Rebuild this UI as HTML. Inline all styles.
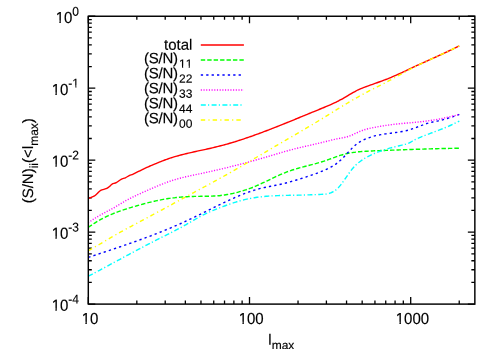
<!DOCTYPE html>
<html lang="en"><head><meta charset="utf-8"><title>S/N plot</title>
<style>
html,body{margin:0;padding:0;background:#fff;}
body{width:498px;height:349px;overflow:hidden;}
svg{display:block;will-change:transform;}
text{font-family:"Liberation Sans",sans-serif;fill:#000;stroke:#000;stroke-width:0.15px;text-rendering:geometricPrecision;font-kerning:none;}
</style></head><body>
<svg width="498" height="349" viewBox="0 0 498 349">
<rect width="498" height="349" fill="#fff"/>
<g fill="none" stroke="#000" stroke-width="1.3">
<path d="M88.30,16.25h7.0 M474.85,16.25h-7.0 M88.30,66.55h3.5 M474.85,66.55h-3.5 M88.30,53.88h3.5 M474.85,53.88h-3.5 M88.30,44.89h3.5 M474.85,44.89h-3.5 M88.30,37.91h3.5 M474.85,37.91h-3.5 M88.30,32.21h3.5 M474.85,32.21h-3.5 M88.30,27.40h3.5 M474.85,27.40h-3.5 M88.30,23.22h3.5 M474.85,23.22h-3.5 M88.30,19.54h3.5 M474.85,19.54h-3.5 M88.30,88.21h7.0 M474.85,88.21h-7.0 M88.30,138.51h3.5 M474.85,138.51h-3.5 M88.30,125.84h3.5 M474.85,125.84h-3.5 M88.30,116.85h3.5 M474.85,116.85h-3.5 M88.30,109.88h3.5 M474.85,109.88h-3.5 M88.30,104.18h3.5 M474.85,104.18h-3.5 M88.30,99.36h3.5 M474.85,99.36h-3.5 M88.30,95.19h3.5 M474.85,95.19h-3.5 M88.30,91.51h3.5 M474.85,91.51h-3.5 M88.30,160.18h7.0 M474.85,160.18h-7.0 M88.30,210.47h3.5 M474.85,210.47h-3.5 M88.30,197.80h3.5 M474.85,197.80h-3.5 M88.30,188.81h3.5 M474.85,188.81h-3.5 M88.30,181.84h3.5 M474.85,181.84h-3.5 M88.30,176.14h3.5 M474.85,176.14h-3.5 M88.30,171.32h3.5 M474.85,171.32h-3.5 M88.30,167.15h3.5 M474.85,167.15h-3.5 M88.30,163.47h3.5 M474.85,163.47h-3.5 M88.30,232.14h7.0 M474.85,232.14h-7.0 M88.30,282.44h3.5 M474.85,282.44h-3.5 M88.30,269.77h3.5 M474.85,269.77h-3.5 M88.30,260.77h3.5 M474.85,260.77h-3.5 M88.30,253.80h3.5 M474.85,253.80h-3.5 M88.30,248.10h3.5 M474.85,248.10h-3.5 M88.30,243.28h3.5 M474.85,243.28h-3.5 M88.30,239.11h3.5 M474.85,239.11h-3.5 M88.30,235.43h3.5 M474.85,235.43h-3.5 M88.30,304.10h7.0 M474.85,304.10h-7.0 M88.30,304.10v-7.0 M88.30,16.25v7.0 M136.83,304.10v-3.5 M136.83,16.25v3.5 M165.21,304.10v-3.5 M165.21,16.25v3.5 M185.35,304.10v-3.5 M185.35,16.25v3.5 M200.97,304.10v-3.5 M200.97,16.25v3.5 M213.74,304.10v-3.5 M213.74,16.25v3.5 M224.53,304.10v-3.5 M224.53,16.25v3.5 M233.88,304.10v-3.5 M233.88,16.25v3.5 M242.12,304.10v-3.5 M242.12,16.25v3.5 M249.50,304.10v-7.0 M249.50,16.25v7.0 M298.03,304.10v-3.5 M298.03,16.25v3.5 M326.41,304.10v-3.5 M326.41,16.25v3.5 M346.55,304.10v-3.5 M346.55,16.25v3.5 M362.17,304.10v-3.5 M362.17,16.25v3.5 M374.94,304.10v-3.5 M374.94,16.25v3.5 M385.73,304.10v-3.5 M385.73,16.25v3.5 M395.08,304.10v-3.5 M395.08,16.25v3.5 M403.32,304.10v-3.5 M403.32,16.25v3.5 M410.70,304.10v-7.0 M410.70,16.25v7.0 M459.23,304.10v-3.5 M459.23,16.25v3.5"/>
</g>
<g fill="none" stroke-width="1.40" stroke-linejoin="round">
<path d="M88.30,198.60 C89.26,198.19 92.58,196.95 94.04,196.14 C95.50,195.33 95.95,194.69 97.05,193.73 C98.15,192.77 99.16,191.20 100.66,190.36 C102.16,189.52 104.67,189.27 106.08,188.67 C107.49,188.07 108.10,187.51 109.10,186.75 C110.10,185.99 110.90,184.78 112.10,184.10 C113.30,183.42 114.80,183.45 116.30,182.65 C117.80,181.85 119.58,180.11 121.10,179.30 C122.62,178.49 123.98,178.45 125.40,177.80 C126.82,177.15 128.30,176.02 129.60,175.40 C130.90,174.78 131.33,174.96 133.20,174.10 C135.07,173.24 139.12,171.10 140.80,170.26 C142.48,169.43 142.47,169.48 143.30,169.10 C144.13,168.71 144.97,168.32 145.80,167.94 C146.63,167.56 147.47,167.18 148.30,166.81 C149.13,166.44 149.97,166.07 150.80,165.70 C151.63,165.33 152.47,164.97 153.30,164.61 C154.13,164.26 154.97,163.90 155.80,163.55 C156.63,163.21 157.47,162.86 158.30,162.53 C159.13,162.19 159.97,161.86 160.80,161.53 C161.63,161.21 162.47,160.89 163.30,160.58 C164.13,160.26 164.97,159.96 165.80,159.66 C166.63,159.36 167.47,159.07 168.30,158.78 C169.13,158.50 169.97,158.22 170.80,157.95 C171.63,157.69 172.47,157.42 173.30,157.17 C174.13,156.91 174.97,156.67 175.80,156.42 C176.63,156.18 177.47,155.95 178.30,155.72 C179.13,155.49 179.97,155.26 180.80,155.04 C181.63,154.82 182.47,154.61 183.30,154.40 C184.13,154.19 184.97,153.98 185.80,153.78 C186.63,153.58 187.47,153.38 188.30,153.18 C189.13,152.99 189.97,152.80 190.80,152.60 C191.63,152.41 192.47,152.23 193.30,152.04 C194.13,151.86 194.97,151.67 195.80,151.49 C196.63,151.31 197.47,151.13 198.30,150.94 C199.13,150.76 199.97,150.58 200.80,150.40 C201.63,150.22 202.47,150.04 203.30,149.86 C204.13,149.68 204.97,149.50 205.80,149.32 C206.63,149.13 207.47,148.95 208.30,148.76 C209.13,148.58 209.97,148.39 210.80,148.20 C211.63,148.01 212.47,147.82 213.30,147.62 C214.13,147.43 214.97,147.23 215.80,147.03 C216.63,146.83 217.47,146.62 218.30,146.41 C219.13,146.20 219.97,145.99 220.80,145.77 C221.63,145.55 222.47,145.33 223.30,145.10 C224.13,144.88 224.97,144.65 225.80,144.42 C226.63,144.18 227.47,143.95 228.30,143.71 C229.13,143.47 229.97,143.23 230.80,142.98 C231.63,142.73 232.47,142.48 233.30,142.23 C234.13,141.98 234.97,141.72 235.80,141.46 C236.63,141.20 237.47,140.94 238.30,140.68 C239.13,140.41 239.97,140.14 240.80,139.87 C241.63,139.60 242.47,139.33 243.30,139.05 C244.13,138.77 244.97,138.49 245.80,138.21 C246.63,137.93 247.47,137.64 248.30,137.36 C249.13,137.07 249.97,136.78 250.80,136.49 C251.63,136.19 252.47,135.90 253.30,135.60 C254.13,135.30 254.97,135.01 255.80,134.70 C256.63,134.40 257.47,134.10 258.30,133.79 C259.13,133.49 259.97,133.18 260.80,132.87 C261.63,132.56 262.47,132.25 263.30,131.93 C264.13,131.62 264.97,131.30 265.80,130.99 C266.63,130.67 267.47,130.35 268.30,130.03 C269.13,129.71 269.97,129.39 270.80,129.06 C271.63,128.74 272.47,128.42 273.30,128.09 C274.13,127.76 274.97,127.43 275.80,127.11 C276.63,126.78 277.47,126.45 278.30,126.11 C279.13,125.78 279.97,125.45 280.80,125.12 C281.63,124.78 282.47,124.45 283.30,124.11 C284.13,123.78 284.97,123.44 285.80,123.10 C286.63,122.77 287.47,122.43 288.30,122.09 C289.13,121.75 289.97,121.41 290.80,121.07 C291.63,120.73 292.47,120.39 293.30,120.05 C294.13,119.71 294.97,119.36 295.80,119.02 C296.63,118.68 297.47,118.34 298.30,117.99 C299.13,117.65 299.97,117.31 300.80,116.97 C301.63,116.62 302.47,116.28 303.30,115.94 C304.13,115.59 304.97,115.25 305.80,114.91 C306.63,114.56 307.47,114.22 308.30,113.88 C309.13,113.53 309.97,113.19 310.80,112.85 C311.63,112.51 312.47,112.17 313.30,111.82 C314.13,111.48 314.97,111.14 315.80,110.80 C316.63,110.46 317.47,110.12 318.30,109.78 C319.13,109.44 319.97,109.10 320.80,108.76 C321.63,108.43 322.47,108.09 323.30,107.75 C324.13,107.40 324.97,107.06 325.80,106.71 C326.63,106.37 327.47,106.02 328.30,105.66 C329.13,105.31 329.97,104.95 330.80,104.58 C331.63,104.21 332.47,103.83 333.30,103.45 C334.13,103.06 334.97,102.67 335.80,102.27 C336.63,101.86 337.47,101.45 338.30,101.03 C339.13,100.60 339.97,100.16 340.80,99.71 C341.63,99.26 342.47,98.79 343.30,98.31 C344.13,97.84 344.97,97.34 345.80,96.84 C346.63,96.34 347.47,95.82 348.30,95.32 C349.13,94.82 349.97,94.31 350.80,93.82 C351.63,93.32 352.47,92.83 353.30,92.37 C354.13,91.90 354.97,91.45 355.80,91.03 C356.63,90.60 357.47,90.21 358.30,89.82 C359.13,89.44 359.97,89.08 360.80,88.72 C361.63,88.37 362.47,88.04 363.30,87.71 C364.13,87.38 364.97,87.07 365.80,86.76 C366.63,86.45 367.47,86.14 368.30,85.84 C369.13,85.54 369.97,85.24 370.80,84.94 C371.63,84.64 372.47,84.34 373.30,84.05 C374.13,83.75 374.97,83.45 375.80,83.16 C376.63,82.86 377.47,82.57 378.30,82.27 C379.13,81.97 379.97,81.67 380.80,81.36 C381.63,81.06 382.47,80.76 383.30,80.45 C384.13,80.14 384.97,79.82 385.80,79.50 C386.63,79.19 387.47,78.86 388.30,78.53 C389.13,78.20 389.97,77.87 390.80,77.52 C391.63,77.18 392.47,76.83 393.30,76.47 C394.13,76.12 394.97,75.75 395.80,75.38 C396.63,75.01 397.47,74.64 398.30,74.26 C399.13,73.88 399.97,73.50 400.80,73.12 C401.63,72.73 402.47,72.34 403.30,71.95 C404.13,71.56 404.97,71.16 405.80,70.77 C406.63,70.37 407.47,69.98 408.30,69.58 C409.13,69.19 409.97,68.79 410.80,68.40 C411.63,68.00 412.47,67.61 413.30,67.21 C414.13,66.82 414.97,66.43 415.80,66.04 C416.63,65.66 417.47,65.27 418.30,64.89 C419.13,64.51 419.97,64.13 420.80,63.75 C421.63,63.37 422.47,62.99 423.30,62.62 C424.13,62.24 424.97,61.87 425.80,61.49 C426.63,61.12 427.47,60.75 428.30,60.37 C429.13,60.00 429.97,59.63 430.80,59.25 C431.63,58.88 432.47,58.51 433.30,58.14 C434.13,57.76 434.97,57.39 435.80,57.01 C436.63,56.64 437.47,56.26 438.30,55.88 C439.13,55.51 439.97,55.13 440.80,54.75 C441.63,54.36 442.47,53.98 443.30,53.59 C444.13,53.21 444.97,52.82 445.80,52.43 C446.63,52.04 447.47,51.64 448.30,51.25 C449.13,50.85 449.97,50.45 450.80,50.04 C451.63,49.64 452.47,49.23 453.30,48.82 C454.13,48.40 454.97,47.99 455.80,47.56 C456.63,47.14 457.72,46.58 458.30,46.28 C458.88,45.98 459.13,45.85 459.30,45.76" stroke="#ff0000"/>
<path d="M88.30,227.39 C88.72,227.09 89.97,226.18 90.80,225.60 C91.63,225.02 92.47,224.46 93.30,223.91 C94.13,223.37 94.97,222.84 95.80,222.33 C96.63,221.82 97.47,221.32 98.30,220.84 C99.13,220.36 99.97,219.89 100.80,219.44 C101.63,218.98 102.47,218.54 103.30,218.12 C104.13,217.69 104.97,217.28 105.80,216.88 C106.63,216.47 107.47,216.09 108.30,215.71 C109.13,215.33 109.97,214.96 110.80,214.61 C111.63,214.25 112.47,213.90 113.30,213.57 C114.13,213.23 114.97,212.90 115.80,212.58 C116.63,212.26 117.47,211.95 118.30,211.65 C119.13,211.34 119.97,211.05 120.80,210.76 C121.63,210.47 122.47,210.19 123.30,209.91 C124.13,209.64 124.97,209.36 125.80,209.10 C126.63,208.83 127.47,208.57 128.30,208.31 C129.13,208.06 129.97,207.80 130.80,207.55 C131.63,207.30 132.47,207.06 133.30,206.81 C134.13,206.56 134.97,206.32 135.80,206.08 C136.63,205.84 137.47,205.60 138.30,205.37 C139.13,205.13 139.97,204.90 140.80,204.67 C141.63,204.44 142.47,204.21 143.30,203.99 C144.13,203.77 144.97,203.55 145.80,203.33 C146.63,203.11 147.47,202.90 148.30,202.69 C149.13,202.48 149.97,202.28 150.80,202.08 C151.63,201.87 152.47,201.68 153.30,201.48 C154.13,201.29 154.97,201.10 155.80,200.92 C156.63,200.74 157.47,200.56 158.30,200.38 C159.13,200.21 159.97,200.04 160.80,199.88 C161.63,199.71 162.47,199.55 163.30,199.40 C164.13,199.25 164.97,199.10 165.80,198.96 C166.63,198.82 167.47,198.68 168.30,198.55 C169.13,198.42 169.97,198.30 170.80,198.18 C171.63,198.06 172.47,197.95 173.30,197.85 C174.13,197.74 174.97,197.65 175.80,197.56 C176.63,197.47 177.47,197.38 178.30,197.30 C179.13,197.22 179.97,197.15 180.80,197.09 C181.63,197.02 182.47,196.96 183.30,196.90 C184.13,196.85 184.97,196.80 185.80,196.75 C186.63,196.71 187.47,196.67 188.30,196.63 C189.13,196.59 189.97,196.56 190.80,196.53 C191.63,196.50 192.47,196.48 193.30,196.45 C194.13,196.43 194.97,196.41 195.80,196.39 C196.63,196.38 197.47,196.36 198.30,196.35 C199.13,196.34 199.97,196.33 200.80,196.32 C201.63,196.31 202.47,196.30 203.30,196.29 C204.13,196.28 204.97,196.27 205.80,196.26 C206.63,196.24 207.47,196.23 208.30,196.21 C209.13,196.19 209.97,196.17 210.80,196.14 C211.63,196.11 212.47,196.08 213.30,196.04 C214.13,195.99 214.97,195.95 215.80,195.89 C216.63,195.83 217.47,195.77 218.30,195.69 C219.13,195.62 219.97,195.53 220.80,195.44 C221.63,195.34 222.47,195.24 223.30,195.12 C224.13,195.01 224.97,194.89 225.80,194.76 C226.63,194.62 227.47,194.48 228.30,194.33 C229.13,194.18 229.97,194.02 230.80,193.85 C231.63,193.68 232.47,193.51 233.30,193.32 C234.13,193.13 234.97,192.93 235.80,192.73 C236.63,192.52 237.47,192.31 238.30,192.08 C239.13,191.86 239.97,191.63 240.80,191.39 C241.63,191.14 242.47,190.89 243.30,190.63 C244.13,190.37 244.97,190.10 245.80,189.83 C246.63,189.55 247.47,189.26 248.30,188.97 C249.13,188.67 249.97,188.37 250.80,188.05 C251.63,187.74 252.47,187.42 253.30,187.09 C254.13,186.76 254.97,186.42 255.80,186.07 C256.63,185.72 257.47,185.36 258.30,185.00 C259.13,184.63 259.97,184.26 260.80,183.88 C261.63,183.50 262.47,183.11 263.30,182.71 C264.13,182.32 264.97,181.92 265.80,181.52 C266.63,181.12 267.47,180.71 268.30,180.30 C269.13,179.90 269.97,179.49 270.80,179.08 C271.63,178.68 272.47,178.27 273.30,177.87 C274.13,177.47 274.97,177.07 275.80,176.68 C276.63,176.29 277.47,175.90 278.30,175.52 C279.13,175.14 279.97,174.76 280.80,174.40 C281.63,174.04 282.47,173.69 283.30,173.35 C284.13,173.00 284.97,172.67 285.80,172.35 C286.63,172.04 287.47,171.73 288.30,171.43 C289.13,171.13 289.97,170.84 290.80,170.56 C291.63,170.28 292.47,170.00 293.30,169.74 C294.13,169.47 294.97,169.22 295.80,168.96 C296.63,168.71 297.47,168.47 298.30,168.23 C299.13,167.99 299.97,167.76 300.80,167.53 C301.63,167.30 302.47,167.08 303.30,166.85 C304.13,166.63 304.97,166.42 305.80,166.20 C306.63,165.98 307.47,165.77 308.30,165.55 C309.13,165.34 309.97,165.12 310.80,164.91 C311.63,164.69 312.47,164.47 313.30,164.25 C314.13,164.03 314.97,163.81 315.80,163.58 C316.63,163.35 317.47,163.12 318.30,162.88 C319.13,162.64 319.97,162.40 320.80,162.15 C321.63,161.89 322.47,161.63 323.30,161.37 C324.13,161.10 324.97,160.82 325.80,160.53 C326.63,160.24 327.47,159.94 328.30,159.64 C329.13,159.34 329.97,159.03 330.80,158.73 C331.63,158.42 332.47,158.11 333.30,157.80 C334.13,157.49 334.97,157.18 335.80,156.89 C336.63,156.59 337.47,156.29 338.30,156.01 C339.13,155.73 339.97,155.45 340.80,155.19 C341.63,154.93 342.47,154.69 343.30,154.46 C344.13,154.23 344.97,154.02 345.80,153.82 C346.63,153.62 347.47,153.44 348.30,153.27 C349.13,153.10 349.97,152.95 350.80,152.81 C351.63,152.66 352.47,152.54 353.30,152.42 C354.13,152.30 354.97,152.19 355.80,152.09 C356.63,151.99 357.47,151.90 358.30,151.82 C359.13,151.74 359.97,151.67 360.80,151.60 C361.63,151.53 362.47,151.47 363.30,151.41 C364.13,151.35 364.97,151.30 365.80,151.25 C366.63,151.20 367.47,151.16 368.30,151.11 C369.13,151.07 369.97,151.03 370.80,150.99 C371.63,150.95 372.47,150.91 373.30,150.87 C374.13,150.84 374.97,150.80 375.80,150.77 C376.63,150.73 377.47,150.70 378.30,150.67 C379.13,150.64 379.97,150.60 380.80,150.57 C381.63,150.54 382.47,150.51 383.30,150.48 C384.13,150.45 384.97,150.42 385.80,150.39 C386.63,150.36 387.47,150.33 388.30,150.30 C389.13,150.27 389.97,150.24 390.80,150.21 C391.63,150.18 392.47,150.15 393.30,150.12 C394.13,150.09 394.97,150.06 395.80,150.03 C396.63,150.00 397.47,149.97 398.30,149.94 C399.13,149.91 399.97,149.88 400.80,149.85 C401.63,149.82 402.47,149.79 403.30,149.76 C404.13,149.73 404.97,149.70 405.80,149.67 C406.63,149.64 407.47,149.61 408.30,149.58 C409.13,149.55 409.97,149.52 410.80,149.49 C411.63,149.47 412.47,149.44 413.30,149.41 C414.13,149.38 414.97,149.35 415.80,149.32 C416.63,149.30 417.47,149.27 418.30,149.24 C419.13,149.21 419.97,149.19 420.80,149.16 C421.63,149.13 422.47,149.11 423.30,149.08 C424.13,149.05 424.97,149.03 425.80,149.00 C426.63,148.98 427.47,148.95 428.30,148.93 C429.13,148.90 429.97,148.88 430.80,148.86 C431.63,148.83 432.47,148.81 433.30,148.79 C434.13,148.76 434.97,148.74 435.80,148.72 C436.63,148.70 437.47,148.68 438.30,148.65 C439.13,148.63 439.97,148.61 440.80,148.59 C441.63,148.57 442.47,148.55 443.30,148.54 C444.13,148.52 444.97,148.50 445.80,148.48 C446.63,148.46 447.47,148.45 448.30,148.43 C449.13,148.41 449.97,148.40 450.80,148.38 C451.63,148.37 452.47,148.35 453.30,148.34 C454.13,148.33 454.97,148.31 455.80,148.30 C456.63,148.29 457.72,148.27 458.30,148.27 C458.88,148.26 459.13,148.25 459.30,148.25" stroke="#00ff00" stroke-dasharray="4.4,2.03"/>
<path d="M88.30,257.43 C88.72,257.29 89.97,256.87 90.80,256.59 C91.63,256.32 92.47,256.04 93.30,255.76 C94.13,255.48 94.97,255.20 95.80,254.93 C96.63,254.65 97.47,254.37 98.30,254.09 C99.13,253.82 99.97,253.54 100.80,253.26 C101.63,252.98 102.47,252.70 103.30,252.43 C104.13,252.15 104.97,251.87 105.80,251.59 C106.63,251.31 107.47,251.04 108.30,250.76 C109.13,250.48 109.97,250.20 110.80,249.92 C111.63,249.64 112.47,249.36 113.30,249.08 C114.13,248.80 114.97,248.52 115.80,248.24 C116.63,247.96 117.47,247.67 118.30,247.39 C119.13,247.11 119.97,246.82 120.80,246.54 C121.63,246.26 122.47,245.97 123.30,245.68 C124.13,245.40 124.97,245.11 125.80,244.82 C126.63,244.54 127.47,244.25 128.30,243.96 C129.13,243.67 129.97,243.38 130.80,243.09 C131.63,242.79 132.47,242.50 133.30,242.21 C134.13,241.91 134.97,241.62 135.80,241.32 C136.63,241.02 137.47,240.73 138.30,240.43 C139.13,240.13 139.97,239.83 140.80,239.52 C141.63,239.22 142.47,238.92 143.30,238.61 C144.13,238.31 144.97,238.00 145.80,237.69 C146.63,237.38 147.47,237.07 148.30,236.76 C149.13,236.45 149.97,236.13 150.80,235.82 C151.63,235.50 152.47,235.18 153.30,234.86 C154.13,234.54 154.97,234.22 155.80,233.90 C156.63,233.58 157.47,233.25 158.30,232.92 C159.13,232.60 159.97,232.27 160.80,231.93 C161.63,231.60 162.47,231.27 163.30,230.93 C164.13,230.59 164.97,230.26 165.80,229.91 C166.63,229.57 167.47,229.23 168.30,228.88 C169.13,228.54 169.97,228.19 170.80,227.84 C171.63,227.49 172.47,227.13 173.30,226.78 C174.13,226.42 174.97,226.06 175.80,225.70 C176.63,225.34 177.47,224.97 178.30,224.61 C179.13,224.24 179.97,223.87 180.80,223.50 C181.63,223.12 182.47,222.75 183.30,222.37 C184.13,221.99 184.97,221.61 185.80,221.22 C186.63,220.84 187.47,220.45 188.30,220.06 C189.13,219.67 189.97,219.27 190.80,218.88 C191.63,218.48 192.47,218.08 193.30,217.68 C194.13,217.27 194.97,216.87 195.80,216.46 C196.63,216.06 197.47,215.65 198.30,215.24 C199.13,214.83 199.97,214.42 200.80,214.01 C201.63,213.60 202.47,213.18 203.30,212.77 C204.13,212.36 204.97,211.94 205.80,211.53 C206.63,211.11 207.47,210.70 208.30,210.28 C209.13,209.87 209.97,209.45 210.80,209.04 C211.63,208.63 212.47,208.21 213.30,207.80 C214.13,207.39 214.97,206.98 215.80,206.57 C216.63,206.16 217.47,205.75 218.30,205.34 C219.13,204.93 219.97,204.53 220.80,204.13 C221.63,203.72 222.47,203.32 223.30,202.92 C224.13,202.53 224.97,202.13 225.80,201.74 C226.63,201.35 227.47,200.96 228.30,200.57 C229.13,200.19 229.97,199.80 230.80,199.43 C231.63,199.05 232.47,198.67 233.30,198.30 C234.13,197.93 234.97,197.56 235.80,197.20 C236.63,196.84 237.47,196.48 238.30,196.13 C239.13,195.78 239.97,195.44 240.80,195.09 C241.63,194.75 242.47,194.42 243.30,194.09 C244.13,193.76 244.97,193.44 245.80,193.12 C246.63,192.81 247.47,192.50 248.30,192.20 C249.13,191.90 249.97,191.61 250.80,191.32 C251.63,191.04 252.47,190.76 253.30,190.49 C254.13,190.23 254.97,189.97 255.80,189.72 C256.63,189.47 257.47,189.23 258.30,189.00 C259.13,188.77 259.97,188.55 260.80,188.34 C261.63,188.13 262.47,187.93 263.30,187.74 C264.13,187.55 264.97,187.37 265.80,187.20 C266.63,187.03 267.47,186.87 268.30,186.70 C269.13,186.54 269.97,186.39 270.80,186.23 C271.63,186.08 272.47,185.92 273.30,185.77 C274.13,185.61 274.97,185.46 275.80,185.30 C276.63,185.13 277.47,184.97 278.30,184.80 C279.13,184.63 279.97,184.45 280.80,184.26 C281.63,184.07 282.47,183.88 283.30,183.68 C284.13,183.47 284.97,183.27 285.80,183.05 C286.63,182.84 287.47,182.62 288.30,182.39 C289.13,182.16 289.97,181.93 290.80,181.69 C291.63,181.46 292.47,181.22 293.30,180.97 C294.13,180.73 294.97,180.48 295.80,180.22 C296.63,179.97 297.47,179.71 298.30,179.45 C299.13,179.19 299.97,178.93 300.80,178.66 C301.63,178.40 302.47,178.13 303.30,177.86 C304.13,177.60 304.97,177.33 305.80,177.06 C306.63,176.78 307.47,176.51 308.30,176.23 C309.13,175.96 309.97,175.68 310.80,175.39 C311.63,175.11 312.47,174.82 313.30,174.53 C314.13,174.23 314.97,173.93 315.80,173.62 C316.63,173.32 317.47,173.00 318.30,172.68 C319.13,172.36 319.97,172.03 320.80,171.69 C321.63,171.35 322.47,171.00 323.30,170.65 C324.13,170.29 324.97,169.92 325.80,169.54 C326.63,169.16 327.47,168.77 328.30,168.36 C329.13,167.95 329.97,167.54 330.80,167.09 C331.63,166.64 332.47,166.18 333.30,165.67 C334.13,165.17 334.97,164.64 335.80,164.06 C336.63,163.48 337.47,162.87 338.30,162.19 C339.13,161.52 339.97,160.79 340.80,160.02 C341.63,159.24 342.47,158.40 343.30,157.54 C344.13,156.68 344.97,155.77 345.80,154.86 C346.63,153.96 347.47,153.02 348.30,152.12 C349.13,151.22 349.97,150.30 350.80,149.44 C351.63,148.58 352.47,147.73 353.30,146.95 C354.13,146.17 354.97,145.44 355.80,144.77 C356.63,144.11 357.47,143.51 358.30,142.94 C359.13,142.38 359.97,141.88 360.80,141.40 C361.63,140.92 362.47,140.49 363.30,140.08 C364.13,139.67 364.97,139.29 365.80,138.93 C366.63,138.57 367.47,138.24 368.30,137.93 C369.13,137.61 369.97,137.33 370.80,137.06 C371.63,136.79 372.47,136.54 373.30,136.31 C374.13,136.08 374.97,135.87 375.80,135.67 C376.63,135.47 377.47,135.29 378.30,135.12 C379.13,134.95 379.97,134.79 380.80,134.65 C381.63,134.50 382.47,134.36 383.30,134.23 C384.13,134.10 384.97,133.98 385.80,133.86 C386.63,133.75 387.47,133.64 388.30,133.53 C389.13,133.42 389.97,133.31 390.80,133.21 C391.63,133.10 392.47,133.00 393.30,132.89 C394.13,132.78 394.97,132.67 395.80,132.56 C396.63,132.44 397.47,132.33 398.30,132.20 C399.13,132.07 399.97,131.94 400.80,131.80 C401.63,131.65 402.47,131.50 403.30,131.34 C404.13,131.17 404.97,131.00 405.80,130.81 C406.63,130.62 407.47,130.41 408.30,130.19 C409.13,129.97 409.97,129.73 410.80,129.47 C411.63,129.21 412.47,128.93 413.30,128.63 C414.13,128.34 414.97,128.02 415.80,127.70 C416.63,127.37 417.47,127.03 418.30,126.70 C419.13,126.37 419.97,126.03 420.80,125.70 C421.63,125.37 422.47,125.04 423.30,124.73 C424.13,124.42 424.97,124.12 425.80,123.84 C426.63,123.57 427.47,123.31 428.30,123.08 C429.13,122.85 429.97,122.64 430.80,122.45 C431.63,122.25 432.47,122.08 433.30,121.90 C434.13,121.72 434.97,121.56 435.80,121.39 C436.63,121.22 437.47,121.05 438.30,120.87 C439.13,120.69 439.97,120.50 440.80,120.30 C441.63,120.09 442.47,119.88 443.30,119.65 C444.13,119.43 444.97,119.19 445.80,118.95 C446.63,118.71 447.47,118.45 448.30,118.19 C449.13,117.94 449.97,117.67 450.80,117.39 C451.63,117.12 452.47,116.84 453.30,116.55 C454.13,116.27 454.97,115.98 455.80,115.68 C456.63,115.39 457.72,115.00 458.30,114.79 C458.88,114.58 459.13,114.49 459.30,114.43" stroke="#0000ff" stroke-dasharray="2.3,3.1"/>
<path d="M88.30,222.81 C88.72,222.51 89.97,221.57 90.80,220.99 C91.63,220.41 92.47,219.85 93.30,219.30 C94.13,218.76 94.97,218.24 95.80,217.73 C96.63,217.22 97.47,216.73 98.30,216.25 C99.13,215.76 99.97,215.30 100.80,214.83 C101.63,214.37 102.47,213.92 103.30,213.47 C104.13,213.02 104.97,212.58 105.80,212.13 C106.63,211.69 107.47,211.25 108.30,210.80 C109.13,210.36 109.97,209.91 110.80,209.46 C111.63,209.00 112.47,208.55 113.30,208.08 C114.13,207.61 114.97,207.13 115.80,206.64 C116.63,206.15 117.47,205.65 118.30,205.14 C119.13,204.64 119.97,204.13 120.80,203.63 C121.63,203.13 122.47,202.63 123.30,202.15 C124.13,201.66 124.97,201.19 125.80,200.73 C126.63,200.26 127.47,199.81 128.30,199.37 C129.13,198.93 129.97,198.50 130.80,198.07 C131.63,197.65 132.47,197.24 133.30,196.83 C134.13,196.42 134.97,196.02 135.80,195.62 C136.63,195.23 137.47,194.84 138.30,194.46 C139.13,194.07 139.97,193.69 140.80,193.31 C141.63,192.93 142.47,192.56 143.30,192.19 C144.13,191.82 144.97,191.44 145.80,191.07 C146.63,190.70 147.47,190.34 148.30,189.97 C149.13,189.60 149.97,189.23 150.80,188.87 C151.63,188.51 152.47,188.15 153.30,187.79 C154.13,187.43 154.97,187.08 155.80,186.73 C156.63,186.37 157.47,186.03 158.30,185.68 C159.13,185.34 159.97,185.00 160.80,184.67 C161.63,184.34 162.47,184.01 163.30,183.69 C164.13,183.37 164.97,183.05 165.80,182.74 C166.63,182.43 167.47,182.13 168.30,181.83 C169.13,181.54 169.97,181.25 170.80,180.97 C171.63,180.69 172.47,180.41 173.30,180.15 C174.13,179.89 174.97,179.63 175.80,179.38 C176.63,179.14 177.47,178.90 178.30,178.67 C179.13,178.44 179.97,178.22 180.80,178.00 C181.63,177.79 182.47,177.58 183.30,177.38 C184.13,177.18 184.97,176.98 185.80,176.79 C186.63,176.59 187.47,176.41 188.30,176.22 C189.13,176.03 189.97,175.85 190.80,175.68 C191.63,175.50 192.47,175.32 193.30,175.14 C194.13,174.97 194.97,174.80 195.80,174.62 C196.63,174.45 197.47,174.28 198.30,174.10 C199.13,173.93 199.97,173.75 200.80,173.58 C201.63,173.40 202.47,173.22 203.30,173.04 C204.13,172.86 204.97,172.68 205.80,172.50 C206.63,172.32 207.47,172.14 208.30,171.95 C209.13,171.77 209.97,171.59 210.80,171.40 C211.63,171.21 212.47,171.03 213.30,170.84 C214.13,170.65 214.97,170.46 215.80,170.27 C216.63,170.07 217.47,169.88 218.30,169.69 C219.13,169.49 219.97,169.30 220.80,169.10 C221.63,168.90 222.47,168.71 223.30,168.51 C224.13,168.31 224.97,168.11 225.80,167.90 C226.63,167.70 227.47,167.50 228.30,167.29 C229.13,167.09 229.97,166.88 230.80,166.68 C231.63,166.47 232.47,166.26 233.30,166.05 C234.13,165.84 234.97,165.63 235.80,165.41 C236.63,165.20 237.47,164.99 238.30,164.77 C239.13,164.55 239.97,164.34 240.80,164.12 C241.63,163.90 242.47,163.68 243.30,163.46 C244.13,163.24 244.97,163.01 245.80,162.79 C246.63,162.56 247.47,162.34 248.30,162.11 C249.13,161.88 249.97,161.65 250.80,161.42 C251.63,161.19 252.47,160.96 253.30,160.73 C254.13,160.50 254.97,160.26 255.80,160.03 C256.63,159.79 257.47,159.56 258.30,159.32 C259.13,159.08 259.97,158.84 260.80,158.60 C261.63,158.36 262.47,158.12 263.30,157.88 C264.13,157.64 264.97,157.39 265.80,157.15 C266.63,156.91 267.47,156.66 268.30,156.41 C269.13,156.17 269.97,155.92 270.80,155.67 C271.63,155.43 272.47,155.18 273.30,154.93 C274.13,154.68 274.97,154.43 275.80,154.18 C276.63,153.94 277.47,153.69 278.30,153.44 C279.13,153.19 279.97,152.95 280.80,152.70 C281.63,152.46 282.47,152.22 283.30,151.98 C284.13,151.74 284.97,151.50 285.80,151.27 C286.63,151.03 287.47,150.80 288.30,150.57 C289.13,150.34 289.97,150.12 290.80,149.90 C291.63,149.68 292.47,149.46 293.30,149.25 C294.13,149.03 294.97,148.82 295.80,148.62 C296.63,148.41 297.47,148.20 298.30,148.00 C299.13,147.80 299.97,147.60 300.80,147.40 C301.63,147.20 302.47,147.00 303.30,146.81 C304.13,146.61 304.97,146.42 305.80,146.22 C306.63,146.03 307.47,145.84 308.30,145.64 C309.13,145.45 309.97,145.26 310.80,145.07 C311.63,144.88 312.47,144.69 313.30,144.49 C314.13,144.30 314.97,144.11 315.80,143.92 C316.63,143.72 317.47,143.53 318.30,143.34 C319.13,143.14 319.97,142.94 320.80,142.75 C321.63,142.55 322.47,142.35 323.30,142.15 C324.13,141.94 324.97,141.74 325.80,141.53 C326.63,141.33 327.47,141.11 328.30,140.90 C329.13,140.69 329.97,140.48 330.80,140.27 C331.63,140.07 332.47,139.86 333.30,139.66 C334.13,139.47 334.97,139.28 335.80,139.10 C336.63,138.92 337.47,138.76 338.30,138.60 C339.13,138.44 339.97,138.30 340.80,138.14 C341.63,137.99 342.47,137.84 343.30,137.67 C344.13,137.50 344.97,137.32 345.80,137.11 C346.63,136.90 347.47,136.68 348.30,136.41 C349.13,136.15 349.97,135.84 350.80,135.51 C351.63,135.18 352.47,134.81 353.30,134.44 C354.13,134.07 354.97,133.67 355.80,133.28 C356.63,132.90 357.47,132.49 358.30,132.12 C359.13,131.75 359.97,131.38 360.80,131.04 C361.63,130.71 362.47,130.40 363.30,130.12 C364.13,129.84 364.97,129.59 365.80,129.35 C366.63,129.11 367.47,128.90 368.30,128.69 C369.13,128.49 369.97,128.31 370.80,128.13 C371.63,127.95 372.47,127.78 373.30,127.61 C374.13,127.45 374.97,127.29 375.80,127.13 C376.63,126.97 377.47,126.82 378.30,126.67 C379.13,126.52 379.97,126.37 380.80,126.23 C381.63,126.09 382.47,125.95 383.30,125.82 C384.13,125.69 384.97,125.56 385.80,125.43 C386.63,125.31 387.47,125.19 388.30,125.07 C389.13,124.95 389.97,124.84 390.80,124.73 C391.63,124.62 392.47,124.52 393.30,124.41 C394.13,124.31 394.97,124.22 395.80,124.12 C396.63,124.03 397.47,123.94 398.30,123.85 C399.13,123.77 399.97,123.69 400.80,123.61 C401.63,123.53 402.47,123.45 403.30,123.37 C404.13,123.30 404.97,123.23 405.80,123.15 C406.63,123.08 407.47,123.01 408.30,122.94 C409.13,122.87 409.97,122.80 410.80,122.72 C411.63,122.65 412.47,122.58 413.30,122.50 C414.13,122.43 414.97,122.35 415.80,122.27 C416.63,122.20 417.47,122.11 418.30,122.03 C419.13,121.95 419.97,121.86 420.80,121.77 C421.63,121.67 422.47,121.58 423.30,121.48 C424.13,121.38 424.97,121.27 425.80,121.16 C426.63,121.05 427.47,120.94 428.30,120.82 C429.13,120.70 429.97,120.58 430.80,120.46 C431.63,120.33 432.47,120.20 433.30,120.06 C434.13,119.93 434.97,119.79 435.80,119.64 C436.63,119.50 437.47,119.35 438.30,119.20 C439.13,119.04 439.97,118.88 440.80,118.72 C441.63,118.56 442.47,118.39 443.30,118.22 C444.13,118.05 444.97,117.87 445.80,117.69 C446.63,117.51 447.47,117.33 448.30,117.14 C449.13,116.95 449.97,116.75 450.80,116.55 C451.63,116.35 452.47,116.15 453.30,115.94 C454.13,115.73 454.97,115.52 455.80,115.30 C456.63,115.08 457.72,114.79 458.30,114.63 C458.88,114.48 459.13,114.40 459.30,114.36" stroke="#ff00ff" stroke-dasharray="1.1,1.59"/>
<path d="M88.30,276.24 C88.72,276.02 89.97,275.37 90.80,274.93 C91.63,274.49 92.47,274.05 93.30,273.61 C94.13,273.17 94.97,272.73 95.80,272.28 C96.63,271.84 97.47,271.40 98.30,270.96 C99.13,270.51 99.97,270.07 100.80,269.62 C101.63,269.17 102.47,268.73 103.30,268.28 C104.13,267.83 104.97,267.39 105.80,266.94 C106.63,266.49 107.47,266.04 108.30,265.59 C109.13,265.14 109.97,264.69 110.80,264.24 C111.63,263.79 112.47,263.34 113.30,262.89 C114.13,262.44 114.97,261.99 115.80,261.54 C116.63,261.09 117.47,260.64 118.30,260.19 C119.13,259.74 119.97,259.29 120.80,258.84 C121.63,258.39 122.47,257.94 123.30,257.49 C124.13,257.04 124.97,256.59 125.80,256.14 C126.63,255.69 127.47,255.25 128.30,254.80 C129.13,254.35 129.97,253.90 130.80,253.45 C131.63,253.01 132.47,252.56 133.30,252.12 C134.13,251.67 134.97,251.22 135.80,250.78 C136.63,250.34 137.47,249.89 138.30,249.45 C139.13,249.01 139.97,248.57 140.80,248.12 C141.63,247.68 142.47,247.24 143.30,246.81 C144.13,246.37 144.97,245.93 145.80,245.49 C146.63,245.06 147.47,244.62 148.30,244.19 C149.13,243.76 149.97,243.32 150.80,242.89 C151.63,242.46 152.47,242.03 153.30,241.61 C154.13,241.18 154.97,240.75 155.80,240.33 C156.63,239.91 157.47,239.48 158.30,239.06 C159.13,238.64 159.97,238.22 160.80,237.80 C161.63,237.39 162.47,236.97 163.30,236.56 C164.13,236.14 164.97,235.72 165.80,235.31 C166.63,234.89 167.47,234.48 168.30,234.06 C169.13,233.64 169.97,233.22 170.80,232.80 C171.63,232.38 172.47,231.95 173.30,231.53 C174.13,231.10 174.97,230.67 175.80,230.23 C176.63,229.80 177.47,229.36 178.30,228.92 C179.13,228.47 179.97,228.03 180.80,227.57 C181.63,227.12 182.47,226.66 183.30,226.19 C184.13,225.73 184.97,225.25 185.80,224.77 C186.63,224.30 187.47,223.81 188.30,223.33 C189.13,222.85 189.97,222.36 190.80,221.88 C191.63,221.39 192.47,220.91 193.30,220.42 C194.13,219.94 194.97,219.46 195.80,218.99 C196.63,218.51 197.47,218.04 198.30,217.58 C199.13,217.11 199.97,216.66 200.80,216.21 C201.63,215.76 202.47,215.32 203.30,214.90 C204.13,214.47 204.97,214.06 205.80,213.66 C206.63,213.25 207.47,212.86 208.30,212.48 C209.13,212.10 209.97,211.73 210.80,211.37 C211.63,211.01 212.47,210.65 213.30,210.31 C214.13,209.96 214.97,209.62 215.80,209.29 C216.63,208.96 217.47,208.63 218.30,208.31 C219.13,207.99 219.97,207.67 220.80,207.36 C221.63,207.05 222.47,206.74 223.30,206.43 C224.13,206.12 224.97,205.82 225.80,205.51 C226.63,205.21 227.47,204.91 228.30,204.62 C229.13,204.32 229.97,204.03 230.80,203.75 C231.63,203.46 232.47,203.18 233.30,202.91 C234.13,202.63 234.97,202.37 235.80,202.10 C236.63,201.84 237.47,201.59 238.30,201.34 C239.13,201.10 239.97,200.86 240.80,200.63 C241.63,200.40 242.47,200.18 243.30,199.96 C244.13,199.75 244.97,199.55 245.80,199.36 C246.63,199.17 247.47,198.99 248.30,198.81 C249.13,198.64 249.97,198.47 250.80,198.32 C251.63,198.16 252.47,198.02 253.30,197.88 C254.13,197.74 254.97,197.61 255.80,197.48 C256.63,197.36 257.47,197.24 258.30,197.13 C259.13,197.02 259.97,196.92 260.80,196.83 C261.63,196.73 262.47,196.64 263.30,196.56 C264.13,196.47 264.97,196.40 265.80,196.32 C266.63,196.25 267.47,196.19 268.30,196.12 C269.13,196.06 269.97,196.01 270.80,195.95 C271.63,195.90 272.47,195.85 273.30,195.81 C274.13,195.77 274.97,195.73 275.80,195.69 C276.63,195.65 277.47,195.62 278.30,195.59 C279.13,195.56 279.97,195.53 280.80,195.51 C281.63,195.48 282.47,195.46 283.30,195.44 C284.13,195.42 284.97,195.40 285.80,195.38 C286.63,195.37 287.47,195.35 288.30,195.34 C289.13,195.32 289.97,195.31 290.80,195.29 C291.63,195.28 292.47,195.27 293.30,195.25 C294.13,195.24 294.97,195.22 295.80,195.21 C296.63,195.19 297.47,195.18 298.30,195.16 C299.13,195.15 299.97,195.13 300.80,195.11 C301.63,195.09 302.47,195.07 303.30,195.05 C304.13,195.02 304.97,195.00 305.80,194.97 C306.63,194.95 307.47,194.92 308.30,194.89 C309.13,194.87 309.97,194.84 310.80,194.81 C311.63,194.78 312.47,194.75 313.30,194.71 C314.13,194.68 314.97,194.65 315.80,194.62 C316.63,194.58 317.47,194.55 318.30,194.52 C319.13,194.48 319.97,194.45 320.80,194.41 C321.63,194.38 322.47,194.35 323.30,194.29 C324.13,194.24 324.97,194.18 325.80,194.07 C326.63,193.97 327.47,193.84 328.30,193.64 C329.13,193.45 329.97,193.21 330.80,192.89 C331.63,192.57 332.47,192.19 333.30,191.71 C334.13,191.23 334.97,190.68 335.80,190.02 C336.63,189.35 337.47,188.60 338.30,187.74 C339.13,186.88 339.97,185.89 340.80,184.84 C341.63,183.79 342.47,182.62 343.30,181.45 C344.13,180.28 344.97,179.04 345.80,177.83 C346.63,176.63 347.47,175.40 348.30,174.23 C349.13,173.06 349.97,171.90 350.80,170.82 C351.63,169.74 352.47,168.69 353.30,167.74 C354.13,166.79 354.97,165.92 355.80,165.11 C356.63,164.31 357.47,163.58 358.30,162.89 C359.13,162.20 359.97,161.57 360.80,160.96 C361.63,160.36 362.47,159.79 363.30,159.25 C364.13,158.70 364.97,158.19 365.80,157.70 C366.63,157.21 367.47,156.75 368.30,156.31 C369.13,155.87 369.97,155.46 370.80,155.06 C371.63,154.66 372.47,154.29 373.30,153.92 C374.13,153.56 374.97,153.22 375.80,152.89 C376.63,152.56 377.47,152.24 378.30,151.94 C379.13,151.63 379.97,151.34 380.80,151.05 C381.63,150.76 382.47,150.48 383.30,150.21 C384.13,149.93 384.97,149.67 385.80,149.41 C386.63,149.15 387.47,148.90 388.30,148.66 C389.13,148.41 389.97,148.17 390.80,147.94 C391.63,147.70 392.47,147.48 393.30,147.25 C394.13,147.03 394.97,146.81 395.80,146.60 C396.63,146.38 397.47,146.17 398.30,145.97 C399.13,145.76 399.97,145.56 400.80,145.36 C401.63,145.16 402.47,144.97 403.30,144.77 C404.13,144.57 404.97,144.40 405.80,144.15 C406.63,143.91 407.47,143.66 408.30,143.30 C409.13,142.95 409.97,142.49 410.80,142.03 C411.63,141.58 412.47,141.04 413.30,140.58 C414.13,140.12 414.97,139.69 415.80,139.29 C416.63,138.88 417.47,138.50 418.30,138.14 C419.13,137.77 419.97,137.43 420.80,137.08 C421.63,136.74 422.47,136.41 423.30,136.08 C424.13,135.75 424.97,135.42 425.80,135.10 C426.63,134.78 427.47,134.47 428.30,134.15 C429.13,133.83 429.97,133.52 430.80,133.21 C431.63,132.90 432.47,132.59 433.30,132.28 C434.13,131.97 434.97,131.66 435.80,131.34 C436.63,131.03 437.47,130.72 438.30,130.40 C439.13,130.08 439.97,129.76 440.80,129.44 C441.63,129.11 442.47,128.79 443.30,128.45 C444.13,128.12 444.97,127.78 445.80,127.43 C446.63,127.08 447.47,126.73 448.30,126.37 C449.13,126.01 449.97,125.64 450.80,125.26 C451.63,124.88 452.47,124.49 453.30,124.09 C454.13,123.69 454.97,123.28 455.80,122.86 C456.63,122.43 457.72,121.86 458.30,121.55 C458.88,121.24 459.13,121.10 459.30,121.01" stroke="#00ffff" stroke-dasharray="5,2.2,1.2,2.4"/>
<path d="M88.30,250.68 C88.72,250.45 89.97,249.76 90.80,249.30 C91.63,248.83 92.47,248.36 93.30,247.89 C94.13,247.41 94.97,246.94 95.80,246.45 C96.63,245.97 97.47,245.49 98.30,245.00 C99.13,244.51 99.97,244.02 100.80,243.53 C101.63,243.04 102.47,242.55 103.30,242.05 C104.13,241.56 104.97,241.07 105.80,240.58 C106.63,240.08 107.47,239.59 108.30,239.10 C109.13,238.61 109.97,238.12 110.80,237.63 C111.63,237.15 112.47,236.66 113.30,236.18 C114.13,235.70 114.97,235.22 115.80,234.75 C116.63,234.27 117.47,233.81 118.30,233.34 C119.13,232.87 119.97,232.41 120.80,231.95 C121.63,231.49 122.47,231.03 123.30,230.58 C124.13,230.12 124.97,229.67 125.80,229.22 C126.63,228.77 127.47,228.32 128.30,227.88 C129.13,227.43 129.97,226.98 130.80,226.54 C131.63,226.10 132.47,225.65 133.30,225.21 C134.13,224.77 134.97,224.32 135.80,223.88 C136.63,223.44 137.47,223.00 138.30,222.55 C139.13,222.11 139.97,221.66 140.80,221.22 C141.63,220.78 142.47,220.33 143.30,219.88 C144.13,219.44 144.97,218.99 145.80,218.54 C146.63,218.10 147.47,217.65 148.30,217.20 C149.13,216.75 149.97,216.30 150.80,215.85 C151.63,215.40 152.47,214.95 153.30,214.50 C154.13,214.05 154.97,213.60 155.80,213.15 C156.63,212.70 157.47,212.25 158.30,211.80 C159.13,211.35 159.97,210.90 160.80,210.44 C161.63,209.99 162.47,209.54 163.30,209.09 C164.13,208.63 164.97,208.18 165.80,207.73 C166.63,207.28 167.47,206.82 168.30,206.37 C169.13,205.92 169.97,205.46 170.80,205.01 C171.63,204.56 172.47,204.11 173.30,203.65 C174.13,203.20 174.97,202.75 175.80,202.29 C176.63,201.84 177.47,201.39 178.30,200.94 C179.13,200.48 179.97,200.03 180.80,199.58 C181.63,199.13 182.47,198.68 183.30,198.22 C184.13,197.77 184.97,197.32 185.80,196.87 C186.63,196.42 187.47,195.97 188.30,195.52 C189.13,195.07 189.97,194.62 190.80,194.17 C191.63,193.72 192.47,193.27 193.30,192.82 C194.13,192.37 194.97,191.92 195.80,191.47 C196.63,191.02 197.47,190.58 198.30,190.13 C199.13,189.68 199.97,189.23 200.80,188.78 C201.63,188.33 202.47,187.88 203.30,187.43 C204.13,186.98 204.97,186.53 205.80,186.08 C206.63,185.63 207.47,185.17 208.30,184.72 C209.13,184.27 209.97,183.82 210.80,183.36 C211.63,182.91 212.47,182.46 213.30,182.00 C214.13,181.55 214.97,181.09 215.80,180.63 C216.63,180.18 217.47,179.72 218.30,179.26 C219.13,178.80 219.97,178.34 220.80,177.88 C221.63,177.42 222.47,176.95 223.30,176.49 C224.13,176.03 224.97,175.56 225.80,175.09 C226.63,174.63 227.47,174.16 228.30,173.69 C229.13,173.22 229.97,172.75 230.80,172.27 C231.63,171.80 232.47,171.33 233.30,170.85 C234.13,170.37 234.97,169.90 235.80,169.42 C236.63,168.94 237.47,168.46 238.30,167.98 C239.13,167.50 239.97,167.01 240.80,166.53 C241.63,166.05 242.47,165.56 243.30,165.08 C244.13,164.59 244.97,164.10 245.80,163.62 C246.63,163.13 247.47,162.64 248.30,162.15 C249.13,161.66 249.97,161.18 250.80,160.69 C251.63,160.20 252.47,159.71 253.30,159.21 C254.13,158.72 254.97,158.23 255.80,157.74 C256.63,157.25 257.47,156.76 258.30,156.27 C259.13,155.77 259.97,155.28 260.80,154.79 C261.63,154.30 262.47,153.81 263.30,153.31 C264.13,152.82 264.97,152.33 265.80,151.84 C266.63,151.35 267.47,150.86 268.30,150.37 C269.13,149.88 269.97,149.39 270.80,148.90 C271.63,148.41 272.47,147.92 273.30,147.43 C274.13,146.94 274.97,146.45 275.80,145.96 C276.63,145.48 277.47,144.99 278.30,144.50 C279.13,144.02 279.97,143.53 280.80,143.04 C281.63,142.56 282.47,142.07 283.30,141.59 C284.13,141.10 284.97,140.62 285.80,140.13 C286.63,139.65 287.47,139.17 288.30,138.68 C289.13,138.20 289.97,137.71 290.80,137.23 C291.63,136.74 292.47,136.26 293.30,135.77 C294.13,135.29 294.97,134.80 295.80,134.31 C296.63,133.83 297.47,133.34 298.30,132.86 C299.13,132.37 299.97,131.88 300.80,131.39 C301.63,130.90 302.47,130.41 303.30,129.92 C304.13,129.43 304.97,128.94 305.80,128.45 C306.63,127.96 307.47,127.47 308.30,126.97 C309.13,126.48 309.97,125.98 310.80,125.49 C311.63,124.99 312.47,124.49 313.30,123.99 C314.13,123.49 314.97,122.99 315.80,122.49 C316.63,121.99 317.47,121.48 318.30,120.98 C319.13,120.47 319.97,119.96 320.80,119.45 C321.63,118.95 322.47,118.43 323.30,117.92 C324.13,117.41 324.97,116.90 325.80,116.38 C326.63,115.87 327.47,115.35 328.30,114.84 C329.13,114.32 329.97,113.80 330.80,113.29 C331.63,112.77 332.47,112.25 333.30,111.74 C334.13,111.22 334.97,110.71 335.80,110.19 C336.63,109.68 337.47,109.16 338.30,108.65 C339.13,108.14 339.97,107.63 340.80,107.12 C341.63,106.61 342.47,106.10 343.30,105.59 C344.13,105.09 344.97,104.58 345.80,104.08 C346.63,103.58 347.47,103.08 348.30,102.59 C349.13,102.09 349.97,101.60 350.80,101.11 C351.63,100.62 352.47,100.13 353.30,99.65 C354.13,99.17 354.97,98.69 355.80,98.21 C356.63,97.73 357.47,97.26 358.30,96.79 C359.13,96.32 359.97,95.86 360.80,95.40 C361.63,94.94 362.47,94.48 363.30,94.03 C364.13,93.57 364.97,93.12 365.80,92.68 C366.63,92.24 367.47,91.80 368.30,91.36 C369.13,90.93 369.97,90.50 370.80,90.07 C371.63,89.64 372.47,89.22 373.30,88.79 C374.13,88.37 374.97,87.95 375.80,87.53 C376.63,87.11 377.47,86.69 378.30,86.27 C379.13,85.84 379.97,85.42 380.80,85.00 C381.63,84.57 382.47,84.15 383.30,83.72 C384.13,83.29 384.97,82.86 385.80,82.42 C386.63,81.98 387.47,81.54 388.30,81.10 C389.13,80.66 389.97,80.22 390.80,79.77 C391.63,79.32 392.47,78.87 393.30,78.42 C394.13,77.97 394.97,77.51 395.80,77.06 C396.63,76.60 397.47,76.14 398.30,75.69 C399.13,75.23 399.97,74.77 400.80,74.32 C401.63,73.86 402.47,73.41 403.30,72.95 C404.13,72.50 404.97,72.04 405.80,71.59 C406.63,71.14 407.47,70.70 408.30,70.25 C409.13,69.81 409.97,69.36 410.80,68.93 C411.63,68.49 412.47,68.05 413.30,67.63 C414.13,67.20 414.97,66.77 415.80,66.35 C416.63,65.94 417.47,65.52 418.30,65.11 C419.13,64.71 419.97,64.30 420.80,63.90 C421.63,63.50 422.47,63.11 423.30,62.71 C424.13,62.32 424.97,61.93 425.80,61.54 C426.63,61.16 427.47,60.77 428.30,60.39 C429.13,60.01 429.97,59.63 430.80,59.25 C431.63,58.87 432.47,58.49 433.30,58.11 C434.13,57.74 434.97,57.36 435.80,56.98 C436.63,56.60 437.47,56.23 438.30,55.85 C439.13,55.47 439.97,55.09 440.80,54.71 C441.63,54.33 442.47,53.95 443.30,53.57 C444.13,53.19 444.97,52.80 445.80,52.41 C446.63,52.02 447.47,51.63 448.30,51.24 C449.13,50.84 449.97,50.45 450.80,50.04 C451.63,49.64 452.47,49.24 453.30,48.83 C454.13,48.41 454.97,48.00 455.80,47.58 C456.63,47.16 457.72,46.60 458.30,46.30 C458.88,46.00 459.13,45.86 459.30,45.78" stroke="#ffff00" stroke-dasharray="4.4,3.2,1.2,3.05"/>
</g>
<g fill="none" stroke-width="1.40">
<path d="M200.80,45.00 H243.90" stroke="#ff0000"/>
<path d="M200.80,60.00 H243.90" stroke="#00ff00" stroke-dasharray="4.4,2.03"/>
<path d="M200.80,75.00 H243.90" stroke="#0000ff" stroke-dasharray="2.3,3.1"/>
<path d="M200.80,90.00 H243.90" stroke="#ff00ff" stroke-dasharray="1.1,1.59"/>
<path d="M200.80,105.00 H243.90" stroke="#00ffff" stroke-dasharray="5,2.2,1.2,2.4"/>
<path d="M200.80,120.00 H243.90" stroke="#ffff00" stroke-dasharray="4.4,3.2,1.2,3.05"/>
</g>
<g font-size="15" text-anchor="end">
<text transform="translate(192.40,49.80) rotate(0.03)">total</text>
<text transform="translate(192.40,63.30) rotate(0.03)"><tspan letter-spacing="-0.25">(S/N)</tspan><tspan font-size="12" dy="4.5" dx="1.25">11</tspan></text>
<g fill="#fff" transform="translate(192.40,63.30) rotate(0.03)"><rect x="-13.584" y="2.454" width="3.204" height="3.196"/><rect x="-9.220" y="2.454" width="3.110" height="3.196"/><rect x="-6.910" y="2.454" width="3.204" height="3.196"/><rect x="-2.546" y="2.454" width="3.110" height="3.196"/></g>
<text transform="translate(192.40,78.30) rotate(0.03)"><tspan letter-spacing="-0.25">(S/N)</tspan><tspan font-size="12" dy="4.5" dx="1.25">22</tspan></text>
<text transform="translate(192.40,93.30) rotate(0.03)"><tspan letter-spacing="-0.25">(S/N)</tspan><tspan font-size="12" dy="4.5" dx="1.25">33</tspan></text>
<text transform="translate(192.40,108.30) rotate(0.03)"><tspan letter-spacing="-0.25">(S/N)</tspan><tspan font-size="12" dy="4.5" dx="1.25">44</tspan></text>
<text transform="translate(192.40,123.30) rotate(0.03)"><tspan letter-spacing="-0.25">(S/N)</tspan><tspan font-size="12" dy="4.5" dx="1.25">00</tspan></text>
</g>
<g fill="none" stroke="#000">
<rect stroke-width="1.45" x="88.30" y="16.25" width="386.55" height="287.85"/>
</g>
<g font-size="15" text-anchor="end">
<text transform="translate(79.0,22.95) rotate(0.03) scale(1,1.06)">10<tspan font-size="12" dy="-6.9">0</tspan></text>
<g fill="#fff" transform="translate(79.0,22.95) rotate(0.03) scale(1,1.06)"><rect x="-23.366" y="-2.271" width="3.729" height="3.421"/><rect x="-18.211" y="-2.271" width="3.612" height="3.421"/></g>
<text transform="translate(79.0,94.91) rotate(0.03) scale(1,1.06)">10<tspan font-size="12" dy="-6.9">-1</tspan></text>
<g fill="#fff" transform="translate(79.0,94.91) rotate(0.03) scale(1,1.06)"><rect x="-27.362" y="-2.271" width="3.729" height="3.421"/><rect x="-22.207" y="-2.271" width="3.612" height="3.421"/><rect x="-6.910" y="-8.946" width="3.204" height="3.196"/><rect x="-2.546" y="-8.946" width="3.110" height="3.196"/></g>
<text transform="translate(79.0,166.88) rotate(0.03) scale(1,1.06)">10<tspan font-size="12" dy="-6.9">-2</tspan></text>
<g fill="#fff" transform="translate(79.0,166.88) rotate(0.03) scale(1,1.06)"><rect x="-27.362" y="-2.271" width="3.729" height="3.421"/><rect x="-22.207" y="-2.271" width="3.612" height="3.421"/></g>
<text transform="translate(79.0,238.84) rotate(0.03) scale(1,1.06)">10<tspan font-size="12" dy="-6.9">-3</tspan></text>
<g fill="#fff" transform="translate(79.0,238.84) rotate(0.03) scale(1,1.06)"><rect x="-27.362" y="-2.271" width="3.729" height="3.421"/><rect x="-22.207" y="-2.271" width="3.612" height="3.421"/></g>
<text transform="translate(79.0,310.80) rotate(0.03) scale(1,1.06)">10<tspan font-size="12" dy="-6.9">-4</tspan></text>
<g fill="#fff" transform="translate(79.0,310.80) rotate(0.03) scale(1,1.06)"><rect x="-27.362" y="-2.271" width="3.729" height="3.421"/><rect x="-22.207" y="-2.271" width="3.612" height="3.421"/></g>
</g>
<g font-size="15" text-anchor="middle">
<text transform="translate(90.00,324.1) rotate(0.03) scale(1,1.06)">10</text>
<g fill="#fff" transform="translate(90.00,324.1) rotate(0.03) scale(1,1.06)"><rect x="-8.350" y="-2.271" width="3.729" height="3.421"/><rect x="-3.195" y="-2.271" width="3.612" height="3.421"/></g>
<text transform="translate(251.20,324.1) rotate(0.03) scale(1,1.06)">100</text>
<g fill="#fff" transform="translate(251.20,324.1) rotate(0.03) scale(1,1.06)"><rect x="-12.521" y="-2.271" width="3.729" height="3.421"/><rect x="-7.366" y="-2.271" width="3.612" height="3.421"/></g>
<text transform="translate(412.40,324.1) rotate(0.03) scale(1,1.06)">1000</text>
<g fill="#fff" transform="translate(412.40,324.1) rotate(0.03) scale(1,1.06)"><rect x="-16.692" y="-2.271" width="3.729" height="3.421"/><rect x="-11.537" y="-2.271" width="3.612" height="3.421"/></g>
</g>
<text font-size="15" transform="translate(268.3,344.7) rotate(0.03)">l<tspan font-size="12" dy="4.5">max</tspan></text>
<text font-size="15" transform="translate(33.2,203.3) rotate(-90)">(S/N)<tspan font-size="12" dy="4.5">ii</tspan><tspan dy="-4.5">(&lt;l</tspan><tspan font-size="12" dy="4.5">max</tspan><tspan dy="-4.5">)</tspan></text>
</svg>
</body></html>
